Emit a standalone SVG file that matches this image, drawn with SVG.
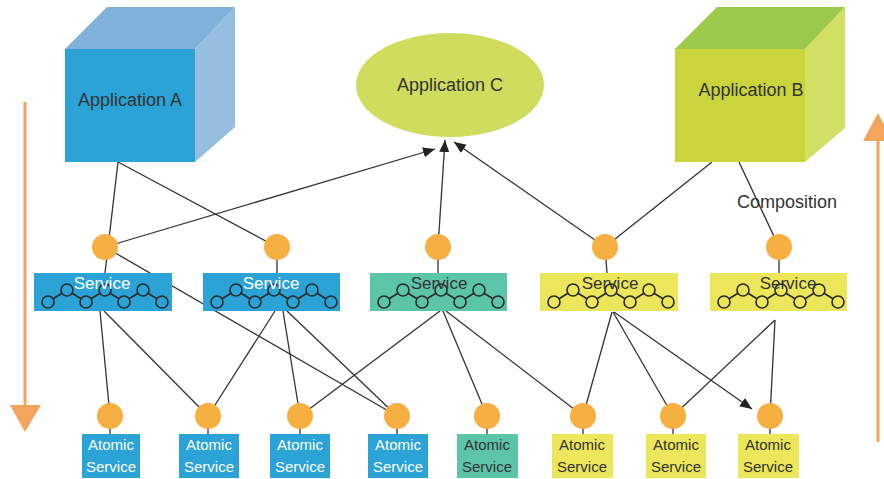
<svg xmlns="http://www.w3.org/2000/svg" width="884" height="479" viewBox="0 0 884 479">
<style>
.ln{stroke:#333;stroke-width:1.3;fill:none}
.dot{fill:#f5b041}
.blue{fill:#2ba3d6}
.teal{fill:#5cc4a8}
.yel{fill:#ebe65a}
.t{font-family:"Liberation Sans",Arial,sans-serif;fill:#333}
.w{fill:#fff}
.big{font-size:18px;text-anchor:middle}
.svc{font-size:17px;text-anchor:middle}
.at{font-size:15px;text-anchor:middle}
.ch{stroke:#2a2a2a;stroke-width:1.6}
.orange{stroke:#f3a65b;stroke-width:3;fill:none}
</style>
<defs>
<marker id="ah" markerUnits="userSpaceOnUse" markerWidth="14" markerHeight="12" refX="12" refY="5" orient="auto">
<path d="M0,0 L12,5 L0,10 z" fill="#222"/>
</marker>
<g id="chain" class="ch" fill="none">
<path d="M19 25.8 L28 20.2 M38 20.2 L47 25.8 M57 25.8 L66 20.2 M76 20.2 L85 25.8 M95 25.8 L104 20.2 M114 20.2 L123 25.8"/>
<circle cx="14" cy="29" r="6"/><circle cx="33" cy="17" r="6"/><circle cx="52" cy="29" r="6"/><circle cx="71" cy="17" r="6"/><circle cx="90" cy="29" r="6"/><circle cx="109" cy="17" r="6"/><circle cx="128" cy="29" r="6"/>
</g>
</defs>
<rect width="884" height="479" fill="#fff"/>

<g id="flow-arrows">
<line class="orange" x1="25" y1="102" x2="25" y2="408"/>
<polygon points="10,405 41,405 25,432" fill="#f3a65b"/>
<line class="orange" x1="878" y1="138" x2="878" y2="442"/>
<polygon points="878,113 863,141 893,141" fill="#f3a65b"/>
</g>

<g id="connectors">
<line class="ln" x1="118" y1="162" x2="105" y2="273"/>
<line class="ln" x1="118" y1="162" x2="277" y2="247"/>
<line class="ln" x1="277" y1="247" x2="277" y2="273"/>
<line class="ln" x1="105" y1="247" x2="435" y2="149" marker-end="url(#ah)"/>
<line class="ln" x1="105" y1="247" x2="397" y2="416"/>
<line class="ln" x1="438" y1="247" x2="445" y2="140" marker-end="url(#ah)"/>
<line class="ln" x1="438" y1="247" x2="438" y2="273"/>
<line class="ln" x1="605" y1="247" x2="454" y2="142" marker-end="url(#ah)"/>
<line class="ln" x1="712" y1="162" x2="605" y2="247"/>
<line class="ln" x1="605" y1="247" x2="607" y2="273"/>
<line class="ln" x1="739" y1="162" x2="779" y2="247"/>
<line class="ln" x1="779" y1="247" x2="779" y2="273"/>
<line class="ln" x1="100" y1="311" x2="110" y2="416"/>
<line class="ln" x1="104" y1="311" x2="208" y2="416"/>
<line class="ln" x1="275" y1="311" x2="208" y2="416"/>
<line class="ln" x1="283" y1="311" x2="300" y2="416"/>
<line class="ln" x1="287" y1="311" x2="397" y2="416"/>
<line class="ln" x1="440" y1="311" x2="300" y2="416"/>
<line class="ln" x1="443" y1="311" x2="487" y2="416"/>
<line class="ln" x1="446" y1="311" x2="583" y2="416"/>
<line class="ln" x1="612" y1="312" x2="583" y2="416"/>
<line class="ln" x1="613" y1="312" x2="673" y2="416"/>
<line class="ln" x1="614" y1="312" x2="752" y2="409" marker-end="url(#ah)"/>
<line class="ln" x1="775" y1="320" x2="673" y2="416"/>
<line class="ln" x1="775" y1="320" x2="770" y2="416"/>
<line class="ln" x1="110" y1="416" x2="110" y2="434"/>
<line class="ln" x1="208" y1="416" x2="208" y2="434"/>
<line class="ln" x1="300" y1="416" x2="300" y2="434"/>
<line class="ln" x1="397" y1="416" x2="397" y2="434"/>
<line class="ln" x1="487" y1="416" x2="487" y2="434"/>
<line class="ln" x1="583" y1="416" x2="583" y2="434"/>
<line class="ln" x1="673" y1="416" x2="673" y2="434"/>
<line class="ln" x1="770" y1="416" x2="770" y2="434"/>
</g>

<g id="app-a">
<polygon points="65,49 107,7 235,7 195,49" fill="#7fb1da"/>
<polygon points="195,49 235,7 235,127 195,162" fill="#95bee1"/>
<rect x="65" y="49" width="130" height="113" fill="#2ba3d6"/>
<text class="t big" x="130" y="106">Application A</text>
</g>

<g id="app-c">
<ellipse cx="450" cy="85" rx="94" ry="52" fill="#cfdc5e"/>
<text class="t big" x="450" y="91">Application C</text>
</g>

<g id="app-b">
<polygon points="675,49 717,7 845,7 805,49" fill="#9cc84c"/>
<polygon points="805,49 845,7 845,128 805,162" fill="#d3de64"/>
<rect x="675" y="49" width="130" height="113" fill="#c9d53a"/>
<text class="t big" x="751" y="96">Application B</text>
</g>

<g id="composition-label">
<text class="t" x="737" y="208" font-size="18">Composition</text>
</g>

<g id="service-1">
<circle class="dot" cx="105" cy="247" r="13"/>
<rect class="blue" x="34" y="273" width="138" height="38"/>
<use href="#chain" x="34" y="273"/>
<text class="t w svc" x="102" y="289">Service</text>
</g>
<g id="service-2">
<circle class="dot" cx="277" cy="247" r="13"/>
<rect class="blue" x="203" y="273" width="137" height="38"/>
<use href="#chain" x="203" y="273"/>
<text class="t w svc" x="271" y="289">Service</text>
</g>
<g id="service-3">
<circle class="dot" cx="438" cy="247" r="13"/>
<rect class="teal" x="370" y="273" width="137" height="38"/>
<use href="#chain" x="370" y="273"/>
<text class="t svc" x="439" y="289">Service</text>
</g>
<g id="service-4">
<circle class="dot" cx="605" cy="247" r="13"/>
<rect class="yel" x="540" y="273" width="138" height="38"/>
<use href="#chain" x="540" y="273"/>
<text class="t svc" x="610" y="289">Service</text>
</g>
<g id="service-5">
<circle class="dot" cx="779" cy="247" r="13"/>
<rect class="yel" x="710" y="273" width="137" height="38"/>
<use href="#chain" x="710" y="273"/>
<text class="t svc" x="788" y="289">Service</text>
</g>

<g id="atomic-1">
<circle class="dot" cx="110" cy="416" r="13"/>
<rect class="blue" x="82" y="434" width="58" height="44"/>
<text class="t w at" x="111" y="450">Atomic</text><text class="t w at" x="111" y="472">Service</text>
</g>
<g id="atomic-2">
<circle class="dot" cx="208" cy="416" r="13"/>
<rect class="blue" x="179" y="434" width="60" height="44"/>
<text class="t w at" x="209" y="450">Atomic</text><text class="t w at" x="209" y="472">Service</text>
</g>
<g id="atomic-3">
<circle class="dot" cx="300" cy="416" r="13"/>
<rect class="blue" x="270" y="434" width="60" height="44"/>
<text class="t w at" x="300" y="450">Atomic</text><text class="t w at" x="300" y="472">Service</text>
</g>
<g id="atomic-4">
<circle class="dot" cx="397" cy="416" r="13"/>
<rect class="blue" x="368" y="434" width="60" height="44"/>
<text class="t w at" x="398" y="450">Atomic</text><text class="t w at" x="398" y="472">Service</text>
</g>
<g id="atomic-5">
<circle class="dot" cx="487" cy="416" r="13"/>
<rect class="teal" x="457" y="434" width="61" height="44"/>
<text class="t at" x="487" y="450">Atomic</text><text class="t at" x="487" y="472">Service</text>
</g>
<g id="atomic-6">
<circle class="dot" cx="583" cy="416" r="13"/>
<rect class="yel" x="552" y="434" width="61" height="44"/>
<text class="t at" x="582" y="450">Atomic</text><text class="t at" x="582" y="472">Service</text>
</g>
<g id="atomic-7">
<circle class="dot" cx="673" cy="416" r="13"/>
<rect class="yel" x="646" y="434" width="60" height="44"/>
<text class="t at" x="676" y="450">Atomic</text><text class="t at" x="676" y="472">Service</text>
</g>
<g id="atomic-8">
<circle class="dot" cx="770" cy="416" r="13"/>
<rect class="yel" x="738" y="434" width="61" height="44"/>
<text class="t at" x="768" y="450">Atomic</text><text class="t at" x="768" y="472">Service</text>
</g>
</svg>
